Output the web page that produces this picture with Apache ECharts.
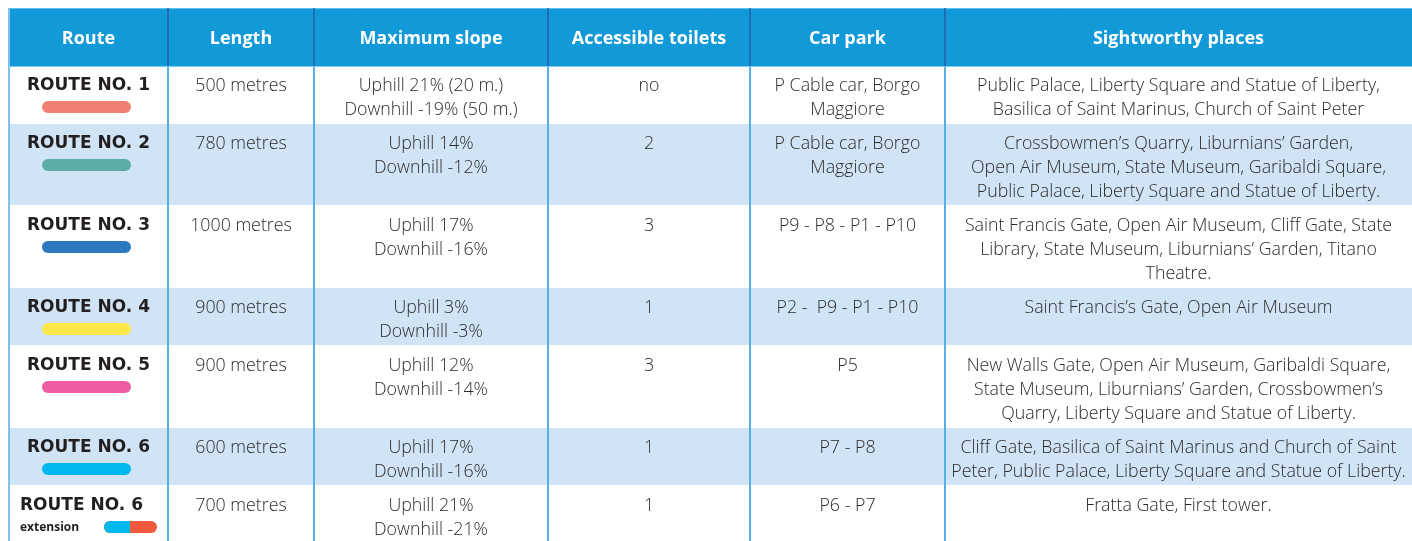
<!DOCTYPE html>
<html><head><meta charset="utf-8">
<script src="https://cdn.jsdelivr.net/npm/echarts@6/dist/echarts.min.js"></script>
<style>html,body{margin:0;padding:0;background:#fff}#c{width:1412px;height:541px}</style>
</head><body><div id="c"></div>
<script>
// ---------- data ----------
const headers = ['Route', 'Length', 'Maximum slope', 'Accessible toilets', 'Car park', 'Sightworthy places'];
const routes = ['ROUTE NO. 1', 'ROUTE NO. 2', 'ROUTE NO. 3', 'ROUTE NO. 4', 'ROUTE NO. 5', 'ROUTE NO. 6', 'ROUTE NO. 6'];
const routeNotes = ['', '', '', '', '', '', 'extension'];
const lengths = ['500 metres', '780 metres', '1000 metres', '900 metres', '900 metres', '600 metres', '700 metres'];
const slopes = [
  'Uphill 21% (20 m.)\nDownhill -19% (50 m.)',
  'Uphill 14%\nDownhill -12%',
  'Uphill 17%\nDownhill -16%',
  'Uphill 3%\nDownhill -3%',
  'Uphill 12%\nDownhill -14%',
  'Uphill 17%\nDownhill -16%',
  'Uphill 21%\nDownhill -21%'
];
const toilets = ['no', '2', '3', '1', '3', '1', '1'];
const carParks = [
  'P Cable car, Borgo\nMaggiore',
  'P Cable car, Borgo\nMaggiore',
  'P9 - P8 - P1 - P10',
  'P2 -  P9 - P1 - P10',
  'P5',
  'P7 - P8',
  'P6 - P7'
];
const sights = [
  'Public Palace, Liberty Square and Statue of Liberty,\nBasilica of Saint Marinus, Church of Saint Peter',
  'Crossbowmen\u2019s Quarry, Liburnians\u2019 Garden,\nOpen Air Museum, State Museum, Garibaldi Square,\nPublic Palace, Liberty Square and Statue of Liberty.',
  'Saint Francis Gate, Open Air Museum, Cliff Gate, State\nLibrary, State Museum, Liburnians\u2019 Garden, Titano\nTheatre.',
  'Saint Francis\u2019s Gate, Open Air Museum',
  'New Walls Gate, Open Air Museum, Garibaldi Square,\nState Museum, Liburnians\u2019 Garden, Crossbowmen\u2019s\nQuarry, Liberty Square and Statue of Liberty.',
  'Cliff Gate, Basilica of Saint Marinus and Church of Saint\nPeter, Public Palace, Liberty Square and Statue of Liberty.',
  'Fratta Gate, First tower.'
];

// ---------- styles / layout ----------
const routeColors = [['#F28072'], ['#5BADA5'], ['#2B78C0'], ['#FDE84A'], ['#EE5BA1'], ['#00B8EE'], ['#00B8EE', '#F05A3C']];
const colEdges = [9, 168, 314, 548, 750, 945, 1412];
const rowEdges = [8, 66, 124, 206, 288, 346, 428, 486, 570];
const HEADER_BG = '#1199D8', BAND_BG = '#D1E4F5';
const BODY_FONT = 'Open Sans', BODY_SIZE = 17.8, BODY_WEIGHT = 300, BODY_COLOR = '#2b2b2b';
const ROUTE_FONT = 'DejaVu Sans', ROUTE_SIZE = 17;

const columns = [routes, lengths, slopes, toilets, carParks, sights];
const rowIdx = routes.map((_, i) => [i + 1]);
rowIdx.unshift([0]);

function renderRow(params, api) {
  const r = api.value(0);
  const p0 = api.coord([colEdges[0], rowEdges[r]]);
  const p1 = api.coord([colEdges[colEdges.length - 1], rowEdges[r + 1]]);
  const top = p0[1], bot = p1[1];
  const children = [];
  let bg = r === 0 ? HEADER_BG : (r % 2 === 0 ? BAND_BG : '#ffffff');
  children.push({ type: 'rect', shape: { x: p0[0], y: top, width: p1[0] - p0[0], height: bot - top - (r === 0 ? 0 : 1) }, style: { fill: bg } });
  if (r === 0) {
    children.push({ type: 'line', shape: { x1: p0[0], y1: top + 0.5, x2: p1[0], y2: top + 0.5 }, style: { stroke: '#5EC0EE', lineWidth: 1 } });
    for (let c = 0; c < headers.length; c++) {
      const xl = api.coord([colEdges[c], 0])[0], xr = api.coord([colEdges[c + 1], 0])[0];
      children.push({ type: 'text', style: { text: headers[c], x: (xl + xr) / 2, y: (top + bot) / 2 + 2, align: 'center', verticalAlign: 'middle', fontFamily: 'Open Sans', fontWeight: 'bold', fontSize: 18, fill: '#ffffff' } });
    }
    return { type: 'group', children };
  }
  const i = r - 1;
  for (let c = 0; c < columns.length; c++) {
    const xl = api.coord([colEdges[c], 0])[0], xr = api.coord([colEdges[c + 1], 0])[0];
    const cx = (xl + xr) / 2;
    if (c === 0) {
      const ext = routeNotes[i] !== '';
      children.push({ type: 'text', style: { text: columns[0][i], x: ext ? xl + 11 : cx, y: top + 20, align: ext ? 'left' : 'center', verticalAlign: 'middle', fontFamily: ROUTE_FONT, fontWeight: 'bold', fontSize: ROUTE_SIZE, fill: '#231F20' } });
      const cols = routeColors[i];
      if (!ext) {
        children.push({ type: 'rect', shape: { x: cx - 46.5, y: top + 35, width: 89, height: 12, r: 6 }, style: { fill: cols[0] } });
      } else {
        children.push({ type: 'text', style: { text: routeNotes[i], x: xl + 11, y: top + 42, align: 'left', verticalAlign: 'middle', fontFamily: 'Open Sans', fontWeight: 'bold', fontSize: 12, fill: '#231F20' } });
        children.push({ type: 'rect', shape: { x: xl + 95, y: top + 35, width: 53, height: 12, r: 6 }, style: { fill: cols[1] } });
        children.push({ type: 'rect', shape: { x: xl + 95, y: top + 35, width: 26, height: 12, r: [6, 0, 0, 6] }, style: { fill: cols[0] } });
      }
    } else {
      children.push({ type: 'text', style: { text: columns[c][i], x: cx, y: top + 8, align: 'center', verticalAlign: 'top', lineHeight: 24, fontFamily: BODY_FONT, fontWeight: BODY_WEIGHT, fontSize: BODY_SIZE, fill: BODY_COLOR } });
    }
  }
  return { type: 'group', children };
}

function renderLines(params, api) {
  const children = [];
  const yTop = api.coord([0, rowEdges[0]])[1];
  const yHead = api.coord([0, rowEdges[1]])[1];
  const yBot = api.coord([0, rowEdges[rowEdges.length - 1]])[1];
  const xl = api.coord([colEdges[0], 0])[0];
  children.push({ type: 'line', shape: { x1: xl, y1: yTop, x2: xl, y2: yBot }, style: { stroke: '#7EC2EC', lineWidth: 2 } });
  for (let c = 1; c < colEdges.length - 1; c++) {
    const x = api.coord([colEdges[c], 0])[0];
    children.push({ type: 'line', shape: { x1: x, y1: yTop, x2: x, y2: yHead }, style: { stroke: '#2A5CA8', lineWidth: 1.5 } });
    children.push({ type: 'line', shape: { x1: x, y1: yHead, x2: x, y2: yBot }, style: { stroke: '#55B0E6', lineWidth: 2 } });
  }
  children.push({ type: 'line', shape: { x1: xl, y1: yHead + 0.5, x2: api.coord([colEdges[colEdges.length - 1], 0])[0], y2: yHead + 0.5 }, style: { stroke: '#7CCBF0', lineWidth: 1 } });
  return { type: 'group', children };
}

const chart = echarts.init(document.getElementById('c'), null, { renderer: 'canvas' });
chart.setOption({
  animation: false,
  backgroundColor: '#ffffff',
  grid: { left: 0, right: 0, top: 0, bottom: 0 },
  xAxis: { type: 'value', min: 0, max: 1412, show: false },
  yAxis: { type: 'value', min: 0, max: 541, inverse: true, show: false },
  series: [
    { type: 'custom', renderItem: renderRow, data: rowIdx, clip: false, silent: true, z: 1 },
    { type: 'custom', renderItem: renderLines, data: [[0]], clip: false, silent: true, z: 2 }
  ]
});
</script></body></html>
